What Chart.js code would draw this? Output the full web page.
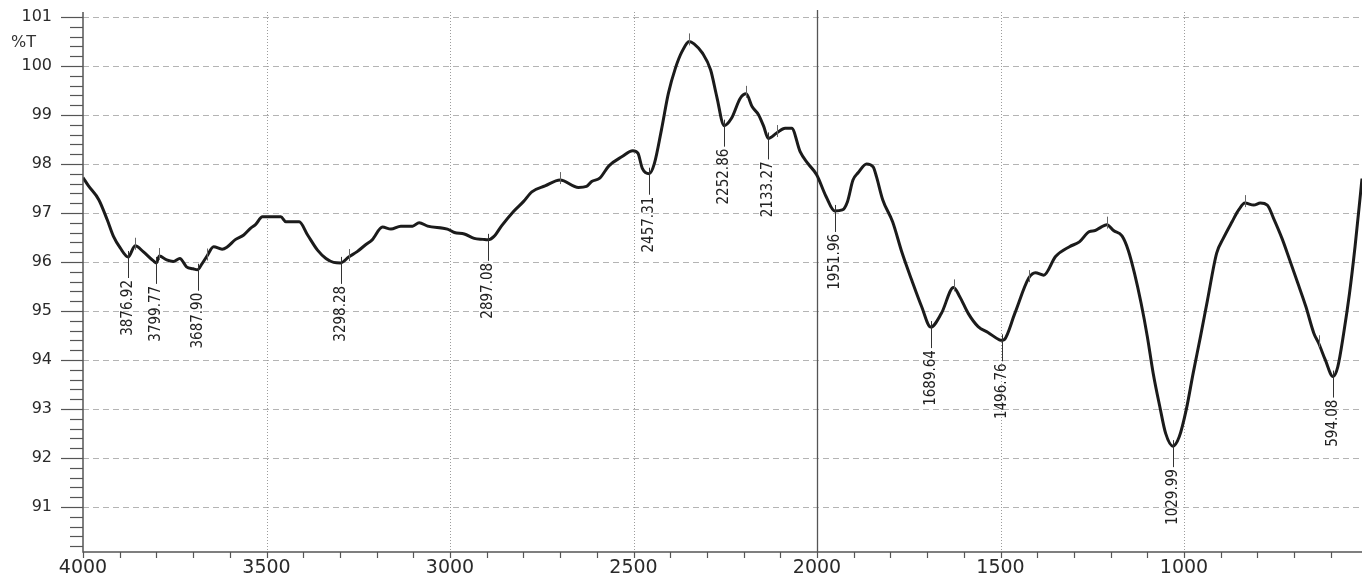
<!DOCTYPE html>
<html>
<head>
<meta charset="utf-8">
<title>IR spectrum</title>
<script src="https://cdn.jsdelivr.net/npm/chart.js@4.4.1/dist/chart.umd.min.js"></script>
<style>
  html, body { margin: 0; padding: 0; background: #fff; }
  #wrap { width: 1362px; height: 575px; position: relative; }
</style>
</head>
<body>
<div id="wrap"><canvas id="irChart"></canvas></div>
<script>
// wavenumber (cm-1) and %T
const wavenumbers = [
  4000, 3985, 3957, 3934, 3917, 3899, 3877, 3858, 3836, 3808,
  3800, 3792, 3772, 3754, 3736, 3718, 3700, 3688, 3676, 3663,
  3644, 3621, 3608, 3584, 3562, 3543, 3530, 3511, 3488, 3461,
  3447, 3411, 3388, 3361, 3338, 3317, 3298, 3276, 3253, 3230,
  3212, 3184, 3161, 3134, 3102, 3084, 3061, 3007, 2988, 2961,
  2934, 2910, 2897, 2880, 2860, 2827, 2800, 2777, 2741, 2700,
  2650, 2628, 2614, 2592, 2567, 2531, 2502, 2488, 2476, 2457,
  2443, 2424, 2405, 2386, 2368, 2348, 2335, 2312, 2290, 2273,
  2253, 2233, 2209, 2193, 2177, 2159, 2145, 2133, 2110, 2087,
  2069, 2046, 2025, 2001, 1975, 1952, 1931, 1917, 1902, 1888,
  1865, 1847, 1838, 1821, 1794, 1768, 1742, 1715, 1690, 1661,
  1628, 1611, 1588, 1561, 1534, 1503, 1497, 1489, 1461, 1423,
  1405, 1382, 1350, 1312, 1285, 1258, 1242, 1228, 1210, 1192,
  1169, 1152, 1135, 1117, 1100, 1084, 1066, 1050, 1030, 1013,
  994, 975, 955, 936, 911, 893, 869, 851, 834, 810,
  792, 773, 756, 733, 712, 690, 668, 646, 633, 615,
  594, 581, 565, 549, 534, 519, 515
];
const transmittance = [
  97.72, 97.55, 97.27, 96.86, 96.52, 96.29, 96.10, 96.33, 96.21, 96.02,
  95.98, 96.12, 96.04, 96.01, 96.07, 95.90, 95.86, 95.84, 95.96, 96.11,
  96.31, 96.26, 96.30, 96.46, 96.55, 96.69, 96.76, 96.92, 96.92, 96.92,
  96.82, 96.82, 96.55, 96.24, 96.07, 95.99, 95.98, 96.10, 96.21, 96.35,
  96.45, 96.71, 96.67, 96.73, 96.73, 96.80, 96.73, 96.67, 96.60, 96.57,
  96.48, 96.46, 96.45, 96.52, 96.73, 97.03, 97.23, 97.43, 97.55, 97.67,
  97.52, 97.54, 97.64, 97.71, 97.96, 98.15, 98.27, 98.22, 97.91, 97.80,
  98.01, 98.69, 99.44, 99.95, 100.29, 100.50, 100.45, 100.26, 99.92, 99.37,
  98.78, 98.93, 99.34, 99.43, 99.17, 99.00, 98.76, 98.52, 98.63, 98.73,
  98.73, 98.25, 98.01, 97.78, 97.33, 97.04, 97.06, 97.23, 97.67, 97.82,
  98.00, 97.94, 97.74, 97.27, 96.82, 96.18, 95.63, 95.09, 94.67, 94.95,
  95.48, 95.29, 94.95, 94.68, 94.56, 94.41, 94.40, 94.42, 94.95, 95.67,
  95.78, 95.73, 96.11, 96.31, 96.41, 96.62, 96.64, 96.70, 96.76, 96.64,
  96.53, 96.24, 95.77, 95.16, 94.48, 93.73, 93.05, 92.50, 92.24, 92.43,
  92.98, 93.73, 94.48, 95.22, 96.18, 96.48, 96.82, 97.06, 97.20, 97.16,
  97.20, 97.16, 96.89, 96.48, 96.04, 95.57, 95.09, 94.54, 94.34, 94.00,
  93.66, 93.86, 94.54, 95.36, 96.31, 97.40, 97.70
];

// labelled minima
const peakWn = [3876.92, 3799.77, 3687.90, 3298.28, 2897.08, 2457.31, 2252.86, 2133.27, 1951.96, 1689.64, 1496.76, 1029.99, 594.08];
const peakT = [96.10, 95.98, 95.84, 95.98, 96.45, 97.80, 98.78, 98.52, 97.04, 94.67, 94.40, 92.24, 93.66];
const peakText = ['3876.92', '3799.77', '3687.90', '3298.28', '2897.08', '2457.31', '2252.86', '2133.27', '1951.96', '1689.64', '1496.76', '1029.99', '594.08'];

// small unlabelled marks the instrument put on the trace
const markWn = [3858, 3792, 3663, 3276, 2700, 2348, 2193, 2110, 1628, 1423, 1210, 834, 633];
const markT = [96.33, 96.12, 96.11, 96.10, 97.67, 100.50, 99.43, 98.63, 95.48, 95.67, 96.76, 97.20, 94.34];

// axis labels
const xLabels = [4000, 3500, 3000, 2500, 2000, 1500, 1000];
const yLabels = [91, 92, 93, 94, 95, 96, 97, 98, 99, 100, 101];

const X_MIN = 515, X_MAX = 4000;
const Y_MIN = 90.08, Y_MAX = 101.1;
// where the plot box should sit on the page
const AREA = { left: 83, top: 12, right: 1362, bottom: 552 };

const points = wavenumbers.map((w, i) => ({ x: w, y: transmittance[i] }));

const decor = {
  id: 'decor',
  beforeDatasetsDraw(chart) {
    const { ctx, chartArea: a, scales: { x, y } } = chart;
    ctx.save();
    // horizontal dashed grid
    ctx.lineWidth = 1;
    ctx.strokeStyle = '#b4b4b4';
    ctx.setLineDash([6, 4]);
    yLabels.forEach(v => {
      const py = Math.round(y.getPixelForValue(v)) + 0.5;
      ctx.beginPath(); ctx.moveTo(a.left, py); ctx.lineTo(a.right, py); ctx.stroke();
    });
    // vertical dotted grid
    ctx.strokeStyle = '#9c9c9c';
    ctx.setLineDash([1, 2]);
    xLabels.forEach(v => {
      if (v === 4000 || v === 2000) return;
      const px = Math.round(x.getPixelForValue(v)) + 0.5;
      ctx.beginPath(); ctx.moveTo(px, a.top); ctx.lineTo(px, a.bottom); ctx.stroke();
    });
    // solid line at 2000
    ctx.setLineDash([]);
    ctx.strokeStyle = '#555';
    ctx.lineWidth = 1.3;
    const p2 = Math.round(x.getPixelForValue(2000)) + 0.5;
    ctx.beginPath(); ctx.moveTo(p2, a.top - 2); ctx.lineTo(p2, a.bottom); ctx.stroke();
    ctx.restore();
  },
  afterDatasetsDraw(chart) {
    const { ctx, chartArea: a, scales: { x, y } } = chart;
    ctx.save();
    ctx.setLineDash([]);
    // axes
    ctx.strokeStyle = '#555';
    ctx.lineWidth = 1.5;
    ctx.beginPath();
    ctx.moveTo(a.left, a.top);
    ctx.lineTo(a.left, a.bottom);
    ctx.lineTo(a.right, a.bottom);
    ctx.stroke();
    // y ticks every 0.2
    ctx.lineWidth = 1.2;
    for (let k = 451; k <= 505; k++) {
      const v = k / 5;
      const len = k % 5 === 0 ? 22 : 13;
      const py = Math.round(y.getPixelForValue(v)) + 0.5;
      ctx.beginPath(); ctx.moveTo(a.left - len, py); ctx.lineTo(a.left, py); ctx.stroke();
    }
    // x ticks every 100
    for (let v = 600; v <= 4000; v += 100) {
      const px = Math.round(x.getPixelForValue(v)) + 0.5;
      ctx.beginPath(); ctx.moveTo(px, a.bottom); ctx.lineTo(px, a.bottom + 6); ctx.stroke();
    }
    // %T caption
    ctx.fillStyle = '#333';
    ctx.font = '16px "DejaVu Sans", sans-serif';
    ctx.textAlign = 'left';
    ctx.textBaseline = 'middle';
    ctx.fillText('%T', 11, 43);

    // unlabelled marks
    ctx.strokeStyle = '#666';
    ctx.lineWidth = 1;
    markWn.forEach((w, i) => {
      const px = Math.round(x.getPixelForValue(w)) + 0.5;
      const py = y.getPixelForValue(markT[i]);
      ctx.beginPath(); ctx.moveTo(px, py - 8); ctx.lineTo(px, py + 4); ctx.stroke();
    });

    // labelled minima
    ctx.strokeStyle = '#333';
    ctx.fillStyle = '#222';
    ctx.font = '15px "Liberation Sans Narrow", "DejaVu Sans Condensed", sans-serif';
    peakWn.forEach((w, i) => {
      const px = Math.round(x.getPixelForValue(w)) + 0.5;
      const py = y.getPixelForValue(peakT[i]);
      ctx.beginPath(); ctx.moveTo(px, py - 6); ctx.lineTo(px, py + 21); ctx.stroke();
      ctx.save();
      ctx.translate(px, py + 23);
      ctx.rotate(-Math.PI / 2);
      ctx.textAlign = 'right';
      ctx.textBaseline = 'middle';
      ctx.fillText(peakText[i], 0, 0);
      ctx.restore();
    });
    ctx.restore();
  }
};

const ctx = document.getElementById('irChart').getContext('2d');
const irChart = new Chart(ctx, {
  type: 'line',
  data: {
    datasets: [{
      data: points,
      borderColor: '#1b1b1b',
      borderWidth: 3,
      pointRadius: 0,
      cubicInterpolationMode: 'monotone',
      fill: false
    }]
  },
  options: {
    responsive: true,
    maintainAspectRatio: false,
    animation: false,
    layout: { autoPadding: false, padding: { top: 12, right: 0, bottom: 0, left: 0 } },
    plugins: {
      legend: { display: false },
      tooltip: { enabled: false }
    },
    scales: {
      x: {
        type: 'linear',
        reverse: true,
        min: X_MIN,
        max: X_MAX,
        afterBuildTicks(scale) {
          scale.ticks = xLabels.map(v => ({ value: v }));
        },
        afterFit(scale) { scale.height = 23; },
        // invisible tick marks keep the labels clear of the axis
        grid: { display: true, drawOnChartArea: false, drawTicks: true, tickLength: 5, tickColor: 'rgba(0,0,0,0)' },
        border: { display: false },
        ticks: {
          autoSkip: false,
          maxRotation: 0,
          padding: 0,
          color: '#2a2a2a',
          font: { family: '"DejaVu Sans", sans-serif', size: 19 },
          callback: v => String(v)
        }
      },
      y: {
        type: 'linear',
        min: Y_MIN,
        max: Y_MAX,
        afterBuildTicks(scale) {
          scale.ticks = yLabels.map(v => ({ value: v }));
        },
        afterFit(scale) { scale.width = 83; },
        grid: { display: true, drawOnChartArea: false, drawTicks: true, tickLength: 31, tickColor: 'rgba(0,0,0,0)' },
        border: { display: false },
        ticks: {
          autoSkip: false,
          padding: 0,
          color: '#2a2a2a',
          font: { family: '"DejaVu Sans", sans-serif', size: 16 },
          callback: v => String(v)
        }
      }
    }
  },
  plugins: [decor]
});

// nudge the layout padding until the plot box lands where the scan has it
for (let pass = 0; pass < 3; pass++) {
  const a = irChart.chartArea;
  const pad = irChart.options.layout.padding;
  const dTop = AREA.top - a.top;
  const dBottom = AREA.bottom - a.bottom;
  const dLeft = AREA.left - a.left;
  const dRight = AREA.right - a.right;
  if (Math.abs(dTop) + Math.abs(dBottom) + Math.abs(dLeft) + Math.abs(dRight) < 0.5) break;
  pad.top += dTop;
  pad.bottom -= dBottom;
  pad.left += dLeft;
  pad.right -= dRight;
  irChart.update();
}
</script>
</body>
</html>
